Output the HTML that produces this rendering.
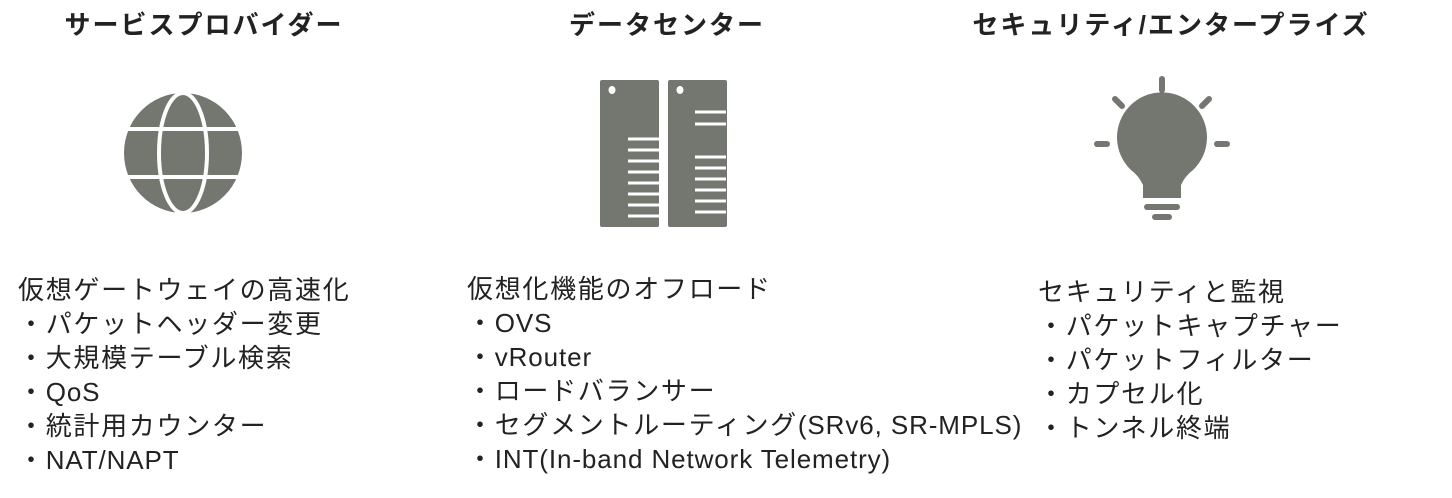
<!DOCTYPE html>
<html><head><meta charset="utf-8"><style>
body{margin:0;width:1452px;height:498px;background:#fff;position:relative;overflow:hidden;font-family:"Liberation Sans","Noto Sans CJK JP",sans-serif;color:#222}
.t{position:absolute;font-weight:bold;font-size:26px;letter-spacing:2px;top:5px;white-space:nowrap;transform:translateX(-50%)}
.b{position:absolute;font-size:26px;letter-spacing:1.7px;line-height:34px;white-space:nowrap}
.l{letter-spacing:0.9px}
</style></head><body>
<div class="t" style="left:204px">サービスプロバイダー</div>
<div class="t" style="left:667px">データセンター</div>
<div class="t" style="left:1171px">セキュリティ/エンタープライズ</div>
<svg width="1452" height="498" style="position:absolute;left:0;top:0">
<g fill="#737770">
<ellipse cx="183" cy="153" rx="59" ry="60"/>
</g>
<g stroke="#fff" stroke-width="4" fill="none">
<ellipse cx="183" cy="153" rx="24" ry="60"/>
<line x1="120" y1="129" x2="246" y2="129"/>
<line x1="120" y1="177" x2="246" y2="177"/>
</g>
<g fill="#737770"><rect x="600" y="80" width="59" height="147" rx="2"/><rect x="668" y="80" width="59" height="147" rx="2"/></g>
<g fill="#fff"><ellipse cx="612" cy="90" rx="3.5" ry="4"/><ellipse cx="680" cy="90" rx="3.5" ry="4"/></g>
<g stroke="#fff" stroke-width="3">
<path d="M628 139H660M628 150H660M628 161H660M628 172H660M628 183H660M628 194H660M628 205H660M628 216H660" />
<path d="M695 116H726M695 128H726M695 161H726M695 172H726M695 183H726M695 194H726M695 205H726M695 216H726" transform="translate(0,-4)"/>
</g>
<g stroke="#737770" stroke-width="6" stroke-linecap="round" fill="none">
<line x1="1162" y1="79" x2="1162" y2="90"/>
<line x1="1115" y1="99" x2="1122" y2="106"/>
<line x1="1209" y1="99" x2="1202" y2="106"/>
<line x1="1097" y1="144" x2="1107" y2="144"/>
<line x1="1217" y1="144" x2="1227" y2="144"/>
<line x1="1147" y1="207" x2="1177" y2="207"/>
<line x1="1155" y1="217" x2="1169" y2="217"/>
</g>
<path fill="#737770" d="M1143 198 L1181 198 L1181 185 Q1185 176 1193 170 A45 45 0 1 0 1131 170 Q1139 176 1143 185 Z"/>
</svg>
<div class="b" style="left:18px;top:273px">仮想ゲートウェイの高速化<br>・パケットヘッダー変更<br>・大規模テーブル検索<br>・<span class="l">QoS</span><br>・統計用カウンター<br>・<span class="l">NAT/NAPT</span></div>
<div class="b" style="left:467px;top:272px">仮想化機能のオフロード<br>・<span class="l">OVS</span><br>・<span class="l">vRouter</span><br>・ロードバランサー<br>・セグメントルーティング<span class="l">(SRv6, SR-MPLS)</span><br>・<span class="l">INT(In-band Network Telemetry)</span></div>
<div class="b" style="left:1038px;top:275px">セキュリティと監視<br>・パケットキャプチャー<br>・パケットフィルター<br>・カプセル化<br>・トンネル終端</div>
</body></html>
